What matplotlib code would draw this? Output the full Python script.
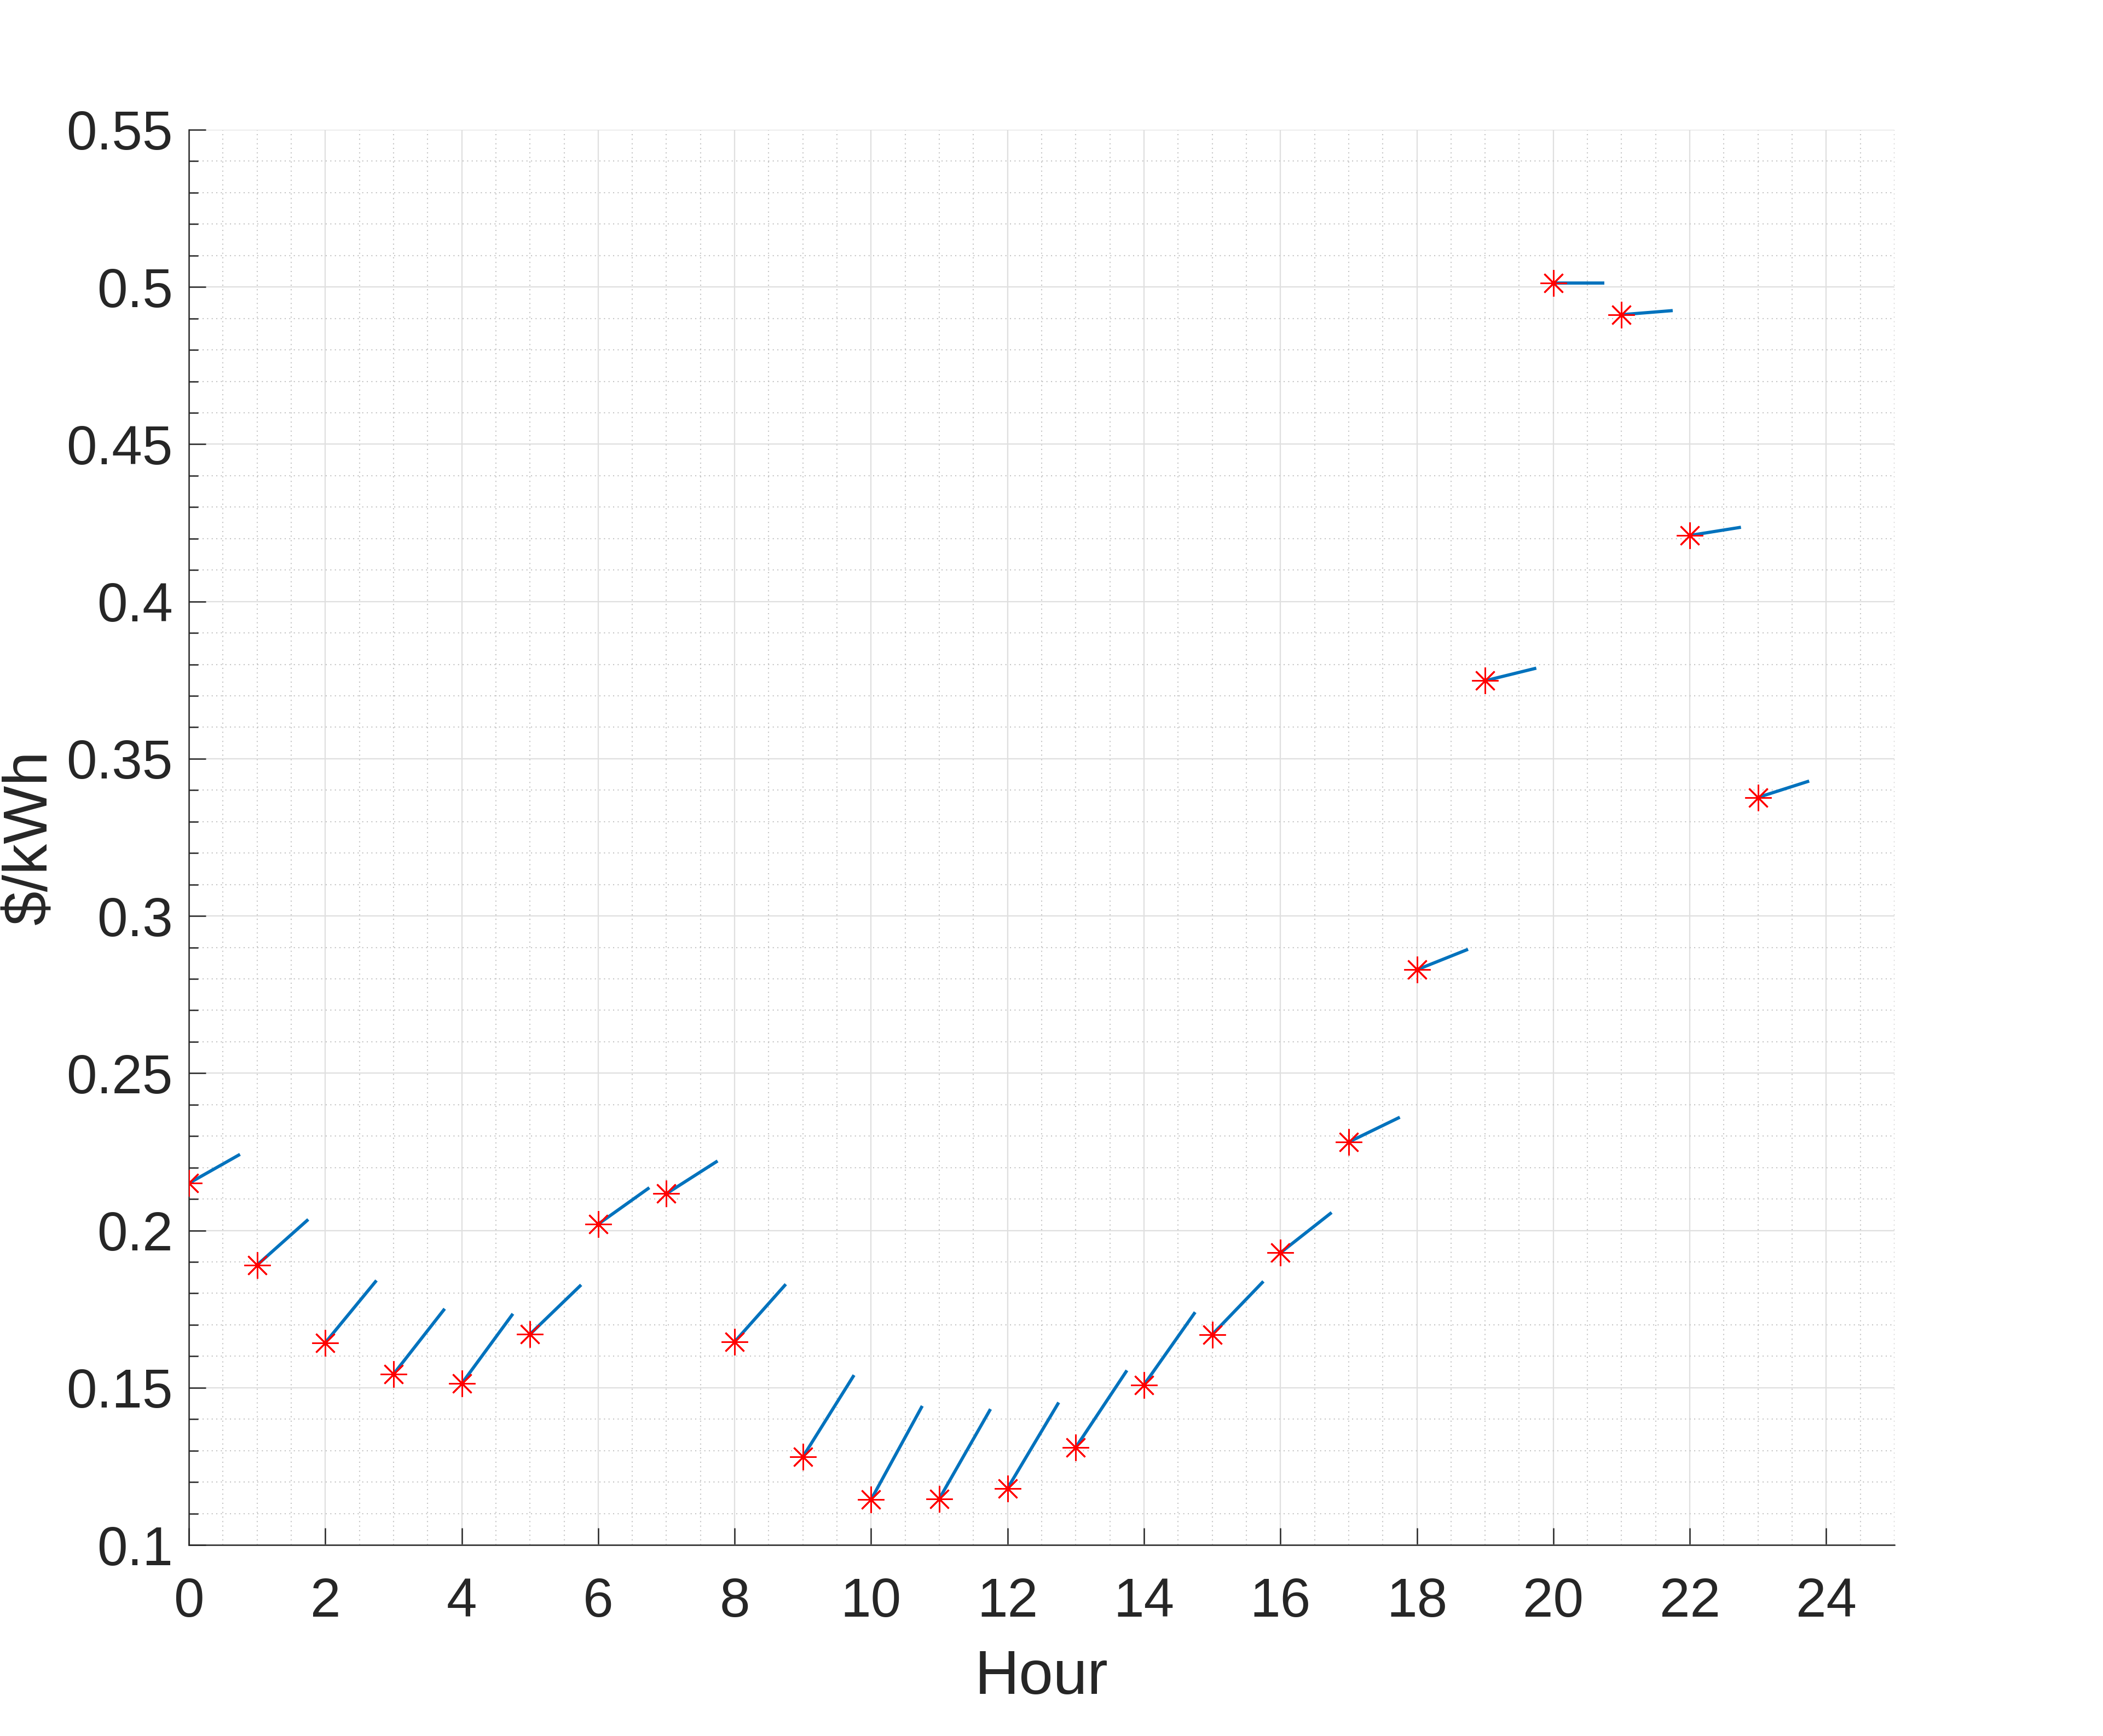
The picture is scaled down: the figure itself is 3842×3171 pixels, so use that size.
import numpy as np
import matplotlib
matplotlib.use("Agg")
import matplotlib.pyplot as plt
from matplotlib.ticker import MultipleLocator

# hourly price and end point of the short slope segment (hour + seg_len)
hours = np.arange(24)
price = [0.2150, 0.1890, 0.1643, 0.1543, 0.1513, 0.1670, 0.2020, 0.2117,
         0.1646, 0.1280, 0.1144, 0.1147, 0.1180, 0.1310, 0.1509, 0.1669,
         0.1929, 0.2281, 0.2829, 0.3748, 0.5013, 0.4912, 0.4210, 0.3377]
price_end = [0.2242, 0.2035, 0.1841, 0.1751, 0.1735, 0.1827, 0.2136, 0.2221,
             0.1829, 0.1540, 0.1442, 0.1432, 0.1453, 0.1555, 0.1740, 0.1838,
             0.2057, 0.2360, 0.2894, 0.3788, 0.5013, 0.4925, 0.4236, 0.3429]
seg_len = 0.75

plt.rcParams['font.family'] = ['Liberation Sans', 'DejaVu Sans']
txt = '#262626'

fig = plt.figure(figsize=(3842 / 300, 3171 / 300), dpi=300)
ax = fig.add_axes([345 / 3842, 1 - 2822 / 3171, (3461 - 345) / 3842, (2822 - 237) / 3171])

# slope segments
for h, p, pe in zip(hours, price, price_end):
    ax.plot([h, h + seg_len], [p, pe], color='#0072BD', lw=1.4,
            solid_capstyle='butt', zorder=3)

# hourly points
ax.plot(hours, price, linestyle='none', marker=(8, 2, 0), markersize=11.5,
        markeredgewidth=0.7, color='red', zorder=4)

ax.set_xlim(0, 25)
ax.set_ylim(0.1, 0.55)
ax.set_xticks(np.arange(0, 25, 2))
ax.set_yticks(np.arange(0.1, 0.551, 0.05))
ax.set_yticklabels(['0.1', '0.15', '0.2', '0.25', '0.3', '0.35', '0.4', '0.45', '0.5', '0.55'])
ax.xaxis.set_minor_locator(MultipleLocator(0.5))
ax.yaxis.set_minor_locator(MultipleLocator(0.01))

ax.grid(which='major', color='#dfdfdf', lw=0.55, ls='-')
ax.grid(which='minor', color='#c4c4c4', lw=0.5, ls=(0, (1, 3)))
ax.set_axisbelow(True)

for s in ['top', 'right']:
    ax.spines[s].set_visible(False)
for s in ['left', 'bottom']:
    ax.spines[s].set_color(txt)
    ax.spines[s].set_linewidth(0.6)

ax.tick_params(axis='both', which='major', direction='in', length=7.5, width=0.6,
               color=txt, labelcolor=txt, labelsize=24)
ax.tick_params(axis='y', which='major', pad=7)
ax.tick_params(axis='x', which='major', pad=14)
ax.tick_params(axis='y', which='minor', direction='in', length=4, width=0.6, color=txt)
ax.tick_params(axis='x', which='minor', length=0)

ax.set_xlabel('Hour', fontsize=27, color=txt, labelpad=9)
ax.set_ylabel('$/kWh', fontsize=27, color=txt)
ax.yaxis.set_label_coords(-0.0757, 0.5)

fig.savefig('out.png', dpi=300, facecolor='white')
